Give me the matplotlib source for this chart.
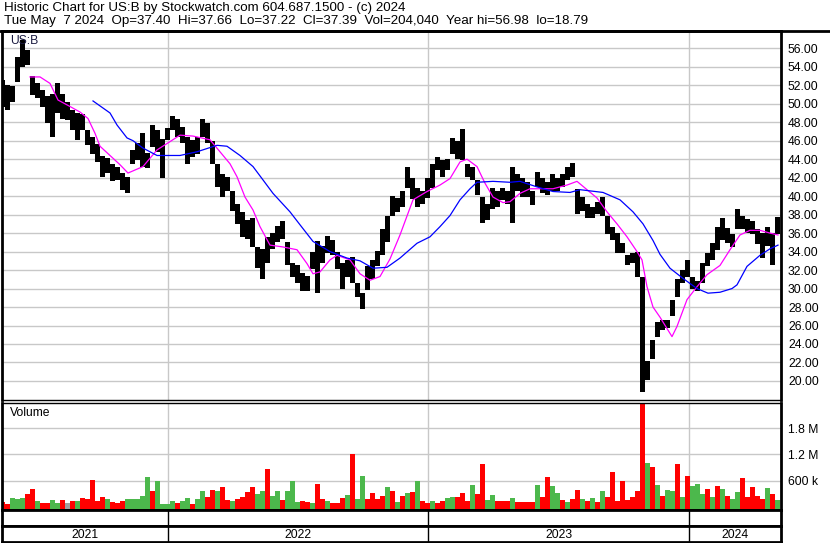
import datetime as dt
import numpy as np
import matplotlib
matplotlib.use("Agg")
import matplotlib.pyplot as plt
import matplotlib.dates as mdates

plt.rcParams['font.family'] = ['Liberation Sans', 'DejaVu Sans']

# weekly buckets (high / low of each week)
START = dt.date(2021, 5, 15)
wk_hi = [52.6, 52.0, 51.9, 55.1, 56.9, 55.8, 53.0, 52.2, 51.5, 50.8,
         51.0, 52.2, 51.1, 50.2, 49.3, 49.0, 48.9, 47.2, 46.4, 45.6,
         44.3, 44.1, 43.5, 43.2, 42.5, 42.1, 45.0, 45.7, 46.8, 44.7,
         47.7, 47.2, 46.2, 47.4, 48.7, 48.4, 47.5, 46.4, 46.1, 46.4,
         48.4, 47.9, 46.0, 43.5, 42.4, 42.1, 40.6, 39.2, 38.3, 37.4,
         37.6, 34.5, 34.3, 35.6, 36.0, 36.8, 37.3, 35.0, 32.8, 32.6,
         31.7, 31.4, 34.0, 35.1, 34.6, 35.7, 35.3, 34.0, 32.8, 33.1,
         33.4, 30.6, 29.5, 32.4, 33.1, 34.1, 36.4, 37.8, 40.0, 39.8,
         40.6, 43.1, 42.0, 40.9, 40.6, 42.0, 43.5, 44.2, 43.9, 44.0,
         46.3, 46.0, 47.3, 43.5, 43.1, 41.8, 39.9, 39.2, 40.9, 40.6,
         40.9, 40.6, 43.1, 42.4, 42.0, 41.5, 40.6, 42.6, 42.0, 41.5,
         42.4, 42.0, 42.4, 43.1, 43.6, 40.8, 39.9, 39.2, 38.8, 39.4,
         39.9, 37.8, 36.7, 36.0, 34.9, 33.6, 33.8, 34.0, 31.3, 22.2,
         24.4, 26.4, 26.6, 26.6, 28.8, 31.0, 32.0, 33.1, 31.3, 30.8,
         32.8, 33.9, 34.9, 36.7, 37.6, 36.6, 35.9, 38.6, 37.8, 37.5,
         37.3, 36.4, 36.0, 36.7, 36.0, 37.7]
wk_lo = [49.7, 49.3, 50.2, 52.4, 54.0, 54.2, 50.9, 50.6, 49.7, 47.9,
         46.4, 49.0, 48.4, 48.2, 47.2, 46.1, 47.2, 45.5, 44.6, 43.7,
         42.1, 42.5, 41.6, 41.7, 40.7, 40.3, 43.5, 43.9, 43.2, 43.0,
         45.3, 44.8, 42.0, 46.1, 47.2, 46.4, 45.7, 43.5, 44.2, 44.6,
         46.4, 45.7, 43.5, 41.0, 39.9, 40.6, 38.4, 37.0, 35.6, 35.4,
         34.5, 32.2, 31.0, 32.8, 34.3, 35.0, 35.4, 32.6, 31.2, 30.6,
         29.7, 29.7, 32.1, 29.5, 32.8, 33.9, 33.6, 32.1, 30.0, 31.3,
         30.6, 29.1, 27.8, 29.8, 31.0, 32.4, 33.6, 35.0, 37.8, 38.3,
         38.8, 40.9, 39.7, 38.8, 39.2, 39.8, 40.9, 42.8, 42.1, 42.8,
         44.6, 44.0, 43.9, 42.1, 41.8, 40.1, 37.1, 37.4, 38.6, 38.8,
         39.6, 39.2, 37.1, 40.6, 39.9, 39.9, 39.0, 41.0, 40.3, 40.1,
         40.6, 40.6, 41.0, 41.8, 42.1, 38.1, 38.4, 37.6, 37.6, 38.1,
         37.8, 35.9, 35.2, 33.8, 33.8, 32.5, 32.8, 31.3, 18.8, 20.1,
         22.4, 24.8, 25.5, 25.7, 27.0, 29.1, 30.6, 31.3, 29.9, 29.7,
         30.6, 32.4, 33.1, 34.2, 35.3, 34.9, 34.5, 36.4, 36.4, 36.0,
         35.9, 34.8, 33.3, 34.6, 32.6, 35.9]

# volume in thousands, and r = down, g = up, n = unchanged
wk_vol = [115, 60, 210, 180, 210, 300, 415, 140, 85, 80,
          160, 80, 160, 85, 125, 140, 210, 175, 623, 140,
          230, 175, 115, 80, 140, 175, 175, 175, 250, 680,
          370, 600, 60, 60, 140, 80, 140, 210, 60, 175,
          370, 220, 390, 350, 460, 155, 140, 175, 220, 330,
          460, 290, 350, 855, 250, 370, 155, 350, 600, 100,
          140, 100, 80, 530, 175, 140, 80, 80, 210, 270,
          1200, 175, 715, 175, 315, 175, 250, 445, 350, 115,
          250, 315, 330, 600, 140, 80, 140, 80, 125, 190,
          220, 220, 310, 140, 510, 290, 970, 155, 280, 140,
          125, 140, 200, 100, 100, 100, 115, 510, 215, 690,
          485, 315, 160, 100, 175, 390, 175, 140, 200, 100,
          355, 215, 807, 140, 600, 160, 215, 355, 2400, 995,
          920, 510, 250, 380, 370, 970, 215, 715, 485, 520,
          295, 410, 215, 485, 410, 255, 175, 345, 665, 215,
          460, 250, 175, 430, 295, 160]
wk_dir = ("rrgggrrgrr" "ggrnrgrrrr" "rgrrrggggg" "rggggrggrg"
          "grrgrrgrrr" "rggrggrggg" "rrgrrgrrrg" "rggrrrrgrg"
          "rgrgrrgrrg" "grrrgrrggr" "rrgrrrrgrr" "ggrgrrgrgr"
          "grrrrrrrrg" "rgrggrgrgg" "grgrgrggrr" "rrrgrg")

# moving averages (week position, price)
ma1_wk = [5.5, 7.5, 9.5, 11.1, 13.5, 15.5, 17.1, 18.5, 19.5, 21.5,
          23.5, 25.1, 28.1, 30.9, 33.5, 35.5, 38.1, 41.5, 43.5, 45.5,
          46.9, 48.5, 50.1, 51.5, 53.5, 56.1, 58.9, 60.9, 62.1, 63.5,
          65.5, 66.9, 69.5, 71.5, 73.5, 75.5, 77.5, 79.5, 82.1, 84.9,
          87.5, 89.5, 91.5, 92.9, 94.9, 96.5, 98.1, 100.1, 101.5, 103.5,
          105.5, 107.5, 110.1, 112.9, 114.9, 116.9, 118.9, 120.9, 122.9, 124.9,
          126.9, 127.9, 128.9, 130.1, 131.5, 133.9, 134.9, 136.9, 138.9, 140.9,
          143.5, 145.5, 147.5, 149.5, 151.5, 153.5, 155.1]
ma1_val = [52.9, 52.9, 52.2, 50.4, 49.7, 49.1, 48.4, 46.8, 45.4, 44.4,
           43.4, 42.5, 43.2, 45.0, 45.9, 46.6, 46.5, 46.1, 44.8, 43.5,
           42.1, 39.9, 38.5, 36.7, 34.7, 34.5, 34.2, 32.7, 31.6, 31.8,
           33.1, 33.6, 33.1, 31.6, 30.9, 31.3, 33.2, 35.8, 39.6, 40.5,
           41.2, 41.9, 43.7, 44.0, 43.2, 41.4, 39.9, 39.3, 39.4, 40.3,
           40.8, 40.8, 40.8, 41.2, 41.6, 40.7, 39.8, 38.3, 37.0, 35.6,
           34.0, 33.1, 30.2, 28.0, 26.9, 24.8, 25.9, 28.8, 30.2, 31.5,
           32.5, 34.2, 35.8, 36.3, 36.3, 36.0, 35.8]
ma2_wk = [18.1, 21.5, 22.9, 24.9, 26.1, 28.1, 30.9, 35.5, 38.9, 42.9,
          44.9, 47.5, 50.1, 51.9, 54.1, 57.5, 59.5, 62.1, 65.5, 68.9,
          71.5, 74.1, 76.9, 79.5, 82.9, 85.5, 87.5, 89.5, 91.5, 93.5,
          94.9, 98.1, 101.5, 103.5, 106.9, 110.1, 113.5, 115.5, 120.1, 123.5,
          126.1, 128.1, 130.1, 131.5, 133.5, 136.1, 138.9, 141.1, 143.5, 145.9,
          146.9, 148.9, 151.5, 153.5, 155.1]
ma2_val = [50.3, 49.0, 47.7, 46.3, 46.0, 45.2, 44.4, 44.4, 44.8, 45.5,
           45.4, 44.4, 43.2, 41.9, 40.3, 38.3, 36.9, 35.1, 34.0, 33.3,
           33.0, 32.2, 32.3, 33.3, 34.9, 35.6, 36.7, 37.9, 39.6, 40.8,
           41.5, 41.6, 41.5, 41.6, 41.0, 40.5, 40.4, 40.7, 40.4, 39.6,
           38.3, 37.0, 35.2, 33.7, 32.2, 31.1, 30.0, 29.5, 29.6, 30.0,
           30.4, 32.4, 33.6, 34.3, 34.7]

price_ticks = list(range(20, 57, 2))
vol_ticks = [600, 1200, 1800]
vol_labels = ["600 k", "1.2 M", "1.8 M"]
years = [2021, 2022, 2023, 2024]

title1 = "Historic Chart for US:B by Stockwatch.com 604.687.1500 - (c) 2024"
title2 = ("Tue May  7 2024  Op=37.40  Hi=37.66  Lo=37.22  Cl=37.39  "
          "Vol=204,040  Year hi=56.98  lo=18.79")

t0 = mdates.date2num(START)
def wk2x(w):
    return t0 + 7.0 * np.asarray(w, dtype=float)

x = wk2x(np.arange(len(wk_hi)))
hi = np.array(wk_hi)
lo = np.array(wk_lo)
cmap = {"r": "#ff0000", "g": "#4cb84c", "n": "#a0a0a0"}
vcol = [cmap[c] for c in wk_dir]

W, H = 830, 543
fig = plt.figure(figsize=(W / 100, H / 100), dpi=100)
def box(x0, y0, x1, y1):
    return [x0 / W, 1 - y1 / H, (x1 - x0) / W, (y1 - y0) / H]

xlim = (wk2x(-0.1), wk2x(155.7))
ybound = [mdates.date2num(dt.date(y, 1, 1)) for y in years[1:]]
GRID = "#c8c8c8"
FS = 8.7

ax = fig.add_axes(box(2, 31, 781, 400))
axv = fig.add_axes(box(2, 403, 781, 510))
axd = fig.add_axes(box(2, 510, 781, 526))
axy = fig.add_axes(box(2, 526, 781, 542))

# price panel
ax.bar(x, hi - lo, bottom=lo, width=7.0, color="black", linewidth=0)
ax.plot(wk2x(ma1_wk), ma1_val, color="#ff00ff", lw=0.9)
ax.plot(wk2x(ma2_wk), ma2_val, color="#0000ff", lw=0.9)
ax.set_ylim(17.94, 57.87)
ax.set_yticks(price_ticks)
ax.set_yticklabels(["%.2f" % t for t in price_ticks])
ax.text(8 / 779, 1 - 10 / 369, "US:B", transform=ax.transAxes,
        fontsize=FS, va="center", color="#1a1a40")

# volume panel
vfloor = -75
axv.bar(x, np.array(wk_vol) + (-vfloor), bottom=vfloor, width=7.0,
        color=vcol, linewidth=0)
axv.set_ylim(vfloor, 2380)
axv.set_yticks(vol_ticks)
axv.set_yticklabels(vol_labels)
axv.text(8 / 779, 1 - 10 / 107, "Volume", transform=axv.transAxes,
         fontsize=FS, va="center")

for a in (ax, axv):
    a.set_xlim(xlim)
    a.set_xticks([])
    a.yaxis.tick_right()
    a.tick_params(axis="y", length=0, pad=5, labelsize=FS)
    a.grid(axis="y", color=GRID, lw=1.0)
    for b in ybound:
        a.axvline(b, color=GRID, lw=1.0, zorder=0)
    a.set_axisbelow(True)
    for s in a.spines.values():
        s.set_color("black")
        s.set_linewidth(1.0)
    a.spines["left"].set_linewidth(2.0)
    a.spines["right"].set_linewidth(2.0)
ax.spines["top"].set_linewidth(2.0)
axv.spines["bottom"].set_linewidth(2.0)

# date strips
for a in (axd, axy):
    a.set_xlim(xlim)
    a.set_ylim(0, 1)
    a.set_xticks([])
    a.set_yticks([])
    for b in ybound:
        a.axvline(b, color="black", lw=1.0)
    for s in a.spines.values():
        s.set_color("black")
        s.set_linewidth(2.0)
edges = [xlim[0]] + ybound + [xlim[1]]
for i, y in enumerate(years):
    axy.text((edges[i] + edges[i + 1]) / 2, 0.45, str(y), ha="center",
             va="center", fontsize=FS)

# header
fig.add_artist(plt.Line2D([0, 1], [1 - 31 / H, 1 - 31 / H], color="black",
                          lw=2.0, transform=fig.transFigure))
fig.text(4 / W, 1 - 8 / H, title1, fontsize=9.6, va="center")
fig.text(4 / W, 1 - 21 / H, title2, fontsize=9.6, va="center")

fig.savefig("out.png", dpi=100)
